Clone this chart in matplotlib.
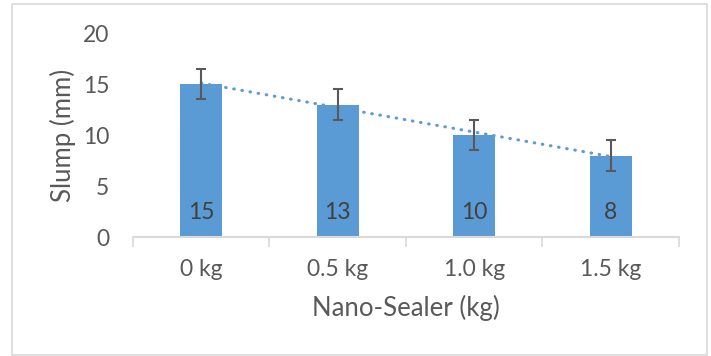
import numpy as np
import matplotlib.pyplot as plt
from matplotlib.patches import Rectangle

plt.rcParams['font.family'] = ['Lato', 'DejaVu Sans']

categories = ['0 kg', '0.5 kg', '1.0 kg', '1.5 kg']
slump = [15, 13, 10, 8]
slump_err = [1.5, 1.5, 1.5, 1.5]

bar_color = '#5B9BD5'
text_color = '#595959'

fig = plt.figure(figsize=(7.11, 3.56), dpi=100)
ax = fig.add_axes([0.187, 0.334, 0.768, 0.573])

x = np.arange(len(categories))
ax.bar(x, slump, width=0.31, color=bar_color, zorder=2)
ax.errorbar(x, slump, yerr=slump_err, fmt='none', ecolor=text_color,
            elinewidth=1.5, capsize=3.8, capthick=1.5, zorder=4)

# linear trendline like Excel
coef = np.polyfit(x, slump, 1)
ax.plot(x, np.polyval(coef, x), color=bar_color, linewidth=2.2,
        linestyle=(0, (0.2, 2.5)), dash_capstyle='round', zorder=3)

for xi, v in zip(x, slump):
    ax.annotate(str(v), (xi, 0), xytext=(0, 17.5), textcoords='offset points',
                ha='center', va='center', fontsize=16.5, color='#404040', zorder=5)

ax.set_xlim(-0.5, len(categories) - 0.5)
ax.set_ylim(0, 20)
ax.set_yticks([0, 5, 10, 15, 20])
ax.set_xticks(x)
ax.set_xticklabels(categories)
ax.tick_params(axis='y', length=0, pad=17, labelsize=16.5, labelcolor=text_color)
ax.tick_params(axis='x', length=0, pad=16, labelsize=16.5, labelcolor=text_color)

# boundary ticks between categories
ax.set_xticks(np.arange(len(categories) + 1) - 0.5, minor=True)
ax.tick_params(axis='x', which='minor', length=7, width=1.2, color='#D9D9D9')

for s in ['top', 'right', 'left']:
    ax.spines[s].set_visible(False)
ax.spines['bottom'].set_color('#D9D9D9')
ax.spines['bottom'].set_linewidth(1.5)

# axis titles placed directly in figure pixels
fig.text(63 / 711, 1 - 135 / 356, 'Slump (mm)', rotation=90, fontsize=18.5,
         color=text_color, ha='center', va='center')
fig.text(406 / 711, 1 - 308 / 356, 'Nano-Sealer (kg)', fontsize=18.5,
         color=text_color, ha='center', va='center')

fig.patches.append(Rectangle((12 / 711, 1 / 356), 695 / 711, 351 / 356,
                             transform=fig.transFigure, fill=False,
                             edgecolor='#D9D9D9', linewidth=1.2))

fig.savefig('out.png', dpi=100)
